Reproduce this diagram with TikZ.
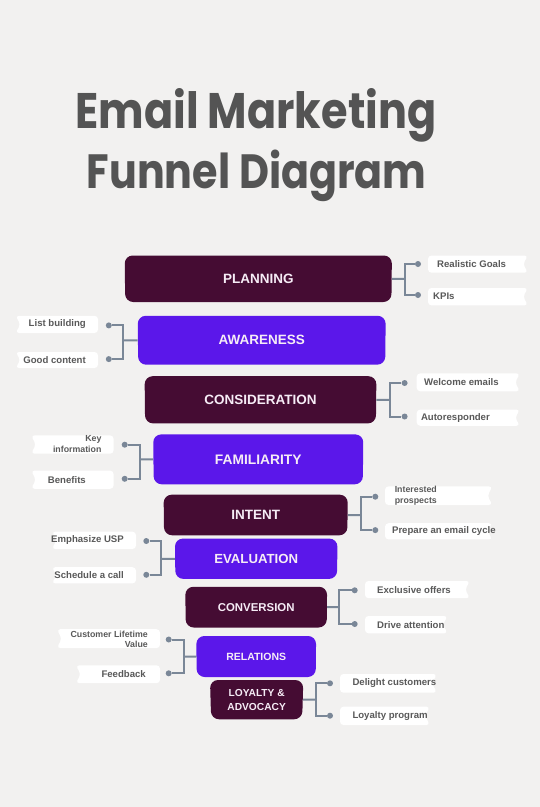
\documentclass[tikz,border=0pt]{standalone}
\usepackage{graphicx}
\usepackage{fontspec}
\setmainfont{Liberation Sans}
\newfontfamily\titlefont{Poppins}
\usetikzlibrary{shapes.geometric}
\definecolor{bg}{HTML}{F2F1F0}
\definecolor{plum}{HTML}{450C33}
\definecolor{violet}{HTML}{5B17EA}
\definecolor{linkc}{HTML}{7A8797}
\definecolor{lblc}{HTML}{595959}
\definecolor{ttlc}{HTML}{545454}
\definecolor{boxtxt}{HTML}{F6ECF6}
\newcommand\bannerR[4]{\fill[white, rounded corners=3.5pt] (#1,#3) -- (#2,#3) -- ({#2-5},{(#3+#4)/2}) -- (#2,#4) -- (#1,#4) -- cycle;}
\newcommand\bannerL[4]{\fill[white, rounded corners=3.5pt] (#2,#3) -- (#1,#3) -- ({#1+5},{(#3+#4)/2}) -- (#1,#4) -- (#2,#4) -- cycle;}
\tikzset{
  stage/.style={trapezium, shape border rotate=180, trapezium angle=87,
    trapezium stretches body, rounded corners=8pt, inner sep=0pt,
    text=boxtxt, align=center},
  dark/.style={stage, fill=plum},
  lite/.style={stage, fill=violet},
  fs/.style={font=\fontsize{#1}{14}\selectfont\bfseries},
  dot/.style={circle, fill=linkc, inner sep=0pt, minimum size=6pt},
  link/.style={draw=linkc, line width=2pt},
  lbl/.style={font=\fontsize{9.6}{10.3}\selectfont\bfseries, text=lblc, inner sep=0pt},
  lblR/.style={lbl, anchor=west, align=left},
  lblL/.style={lbl, anchor=east, align=right},
}
\begin{document}
\begin{tikzpicture}[x=1pt,y=-1pt]
\fill[bg] (0,0) rectangle (540,807);
\useasboundingbox (0,0) rectangle (540,807);

% title
\node[anchor=base, text=ttlc, inner sep=0pt, font=\titlefont\bfseries] (title1) at (255.9,128.3) {\resizebox{361pt}{40pt}{Email Marketing}};
\node[anchor=base, text=ttlc, inner sep=0pt, font=\titlefont\bfseries] (title2) at (256.7,188) {\resizebox{340pt}{38.5pt}{Funnel Diagram}};

% banners
\bannerR{428}{528}{255.5}{272.7}
\bannerR{428}{528}{288}{305.4}
\bannerL{15.5}{98}{315.8}{333}
\bannerL{15.5}{98}{352}{368}
\bannerR{416.7}{520}{373.4}{391.3}
\bannerR{416.7}{520}{409.6}{425.8}
\bannerL{31}{113.6}{435.4}{453.7}
\bannerL{31}{113.6}{470.6}{488.8}
\bannerR{385}{492.4}{486.4}{505}
\bannerR{385}{492.4}{523.2}{539.4}
\bannerL{51.7}{136}{531.7}{549}
\bannerL{51.7}{136}{567.2}{583.4}
\bannerR{365}{470}{581}{598.2}
\bannerR{365}{447.7}{616}{633.3}
\bannerL{56.8}{160}{629.2}{648.1}
\bannerL{75.8}{160}{665.3}{683.2}
\bannerR{340}{437}{674}{692.7}
\bannerR{340}{430}{706.7}{725}

% stages
\node[dark, fs=13.5, minimum width=267.2pt, minimum height=46.5pt] (b1) at (258.3,278.75) {PLANNING};
\node[lite, fs=13.5, minimum width=248pt, minimum height=48.9pt] (b2) at (261.7,340.25) {AWARENESS};
\node[dark, fs=13.5, minimum width=231.8pt, minimum height=47.2pt] (b3) at (260.5,399.8) {CONSIDERATION};
\node[lite, fs=13.8, minimum width=210.1pt, minimum height=49.9pt] (b4) at (258.25,459.35) {FAMILIARITY};
\node[dark, fs=13.5, minimum width=184.2pt, minimum height=40.6pt] (b5) at (255.7,515) {INTENT};
\node[lite, fs=13.2, minimum width=162.6pt, minimum height=40.3pt] (b6) at (256.2,558.75) {EVALUATION};
\node[dark, fs=11.4, minimum width=141.8pt, minimum height=40.7pt] (b7) at (256.2,607.15) {CONVERSION};
\node[lite, fs=10.5, minimum width=119.8pt, minimum height=41pt] (b8) at (256.2,656.5) {RELATIONS};
\node[dark, fs=10.2, minimum width=93.3pt, minimum height=39.3pt] (b9) at (256.65,699.65) {LOYALTY \&\\ADVOCACY};

% dots
\node[dot] (d1a) at (418,264) {};
\node[dot] (d1b) at (418,295) {};
\node[dot] (d2a) at (108.8,325.4) {};
\node[dot] (d2b) at (108.8,359.1) {};
\node[dot] (d3a) at (404.6,383) {};
\node[dot] (d3b) at (404.6,416.5) {};
\node[dot] (d4a) at (124.7,444.7) {};
\node[dot] (d4b) at (124.7,478.8) {};
\node[dot] (d5a) at (375.3,496.7) {};
\node[dot] (d5b) at (375.3,530.1) {};
\node[dot] (d6a) at (146.3,541) {};
\node[dot] (d6b) at (146.3,574.8) {};
\node[dot] (d7a) at (354.7,590.3) {};
\node[dot] (d7b) at (354.7,624) {};
\node[dot] (d8a) at (168.7,639.5) {};
\node[dot] (d8b) at (168.7,673.3) {};
\node[dot] (d9a) at (330,683.3) {};
\node[dot] (d9b) at (330,715.7) {};

% junctions
\coordinate (j1) at (404.6,278.75);
\coordinate (j2) at (123.3,340.25);
\coordinate (j3) at (390.2,399.8);
\coordinate (j4) at (139.5,459.35);
\coordinate (j5) at (360.9,515);
\coordinate (j6) at (161.2,558.75);
\coordinate (j7) at (339.2,607.15);
\coordinate (j8) at (183.5,656.5);
\coordinate (j9) at (316,699.65);

% connectors
\draw[link] (b1.east) -- (j1);
\draw[link] (d1a) -| (j1) |- (d1b);
\draw[link] (b2.west) -- (j2);
\draw[link] (d2a) -| (j2) |- (d2b);
\draw[link] (b3.east) -- (j3);
\draw[link] (d3a) -| (j3) |- (d3b);
\draw[link] (b4.west) -- (j4);
\draw[link] (d4a) -| (j4) |- (d4b);
\draw[link] (b5.east) -- (j5);
\draw[link] (d5a) -| (j5) |- (d5b);
\draw[link] (b6.west) -- (j6);
\draw[link] (d6a) -| (j6) |- (d6b);
\draw[link] (b7.east) -- (j7);
\draw[link] (d7a) -| (j7) |- (d7b);
\draw[link] (b8.west) -- (j8);
\draw[link] (d8a) -| (j8) |- (d8b);
\draw[link] (b9.east) -- (j9);
\draw[link] (d9a) -| (j9) |- (d9b);

% labels
\node[lblR] (t1a) at (437,264) {Realistic Goals};
\node[lblR] (t1b) at (433,296.5) {KPIs};
\node[lblL] (t2a) at (86,324.4) {List building};
\node[lblL] (t2b) at (86,360) {Good content};
\node[lblR] (t3a) at (424,382.3) {Welcome emails};
\node[lblR] (t3b) at (420.8,417.7) {Autoresponder};
\node[lblL, font=\fontsize{8.8}{10.3}\selectfont\bfseries] (t4a) at (101.6,444) {Key\\information};
\node[lblL] (t4b) at (86,479.7) {Benefits};
\node[lblR, font=\fontsize{8.8}{10.3}\selectfont\bfseries] (t5a) at (394.6,495.7) {Interested\\prospects};
\node[lblR] (t5b) at (391.9,531.3) {Prepare an email cycle};
\node[lblL] (t6a) at (124,540.3) {Emphasize USP};
\node[lblL] (t6b) at (124,575.3) {Schedule a call};
\node[lblR] (t7a) at (377,589.6) {Exclusive offers};
\node[lblR] (t7b) at (377,624.6) {Drive attention};
\node[lblL, font=\fontsize{8.8}{10.3}\selectfont\bfseries] (t8a) at (148,639.2) {Customer Lifetime\\Value};
\node[lblL] (t8b) at (146,674.2) {Feedback};
\node[lblR] (t9a) at (352.3,683.3) {Delight customers};
\node[lblR] (t9b) at (352.3,715.8) {Loyalty program};
\end{tikzpicture}
\end{document}
